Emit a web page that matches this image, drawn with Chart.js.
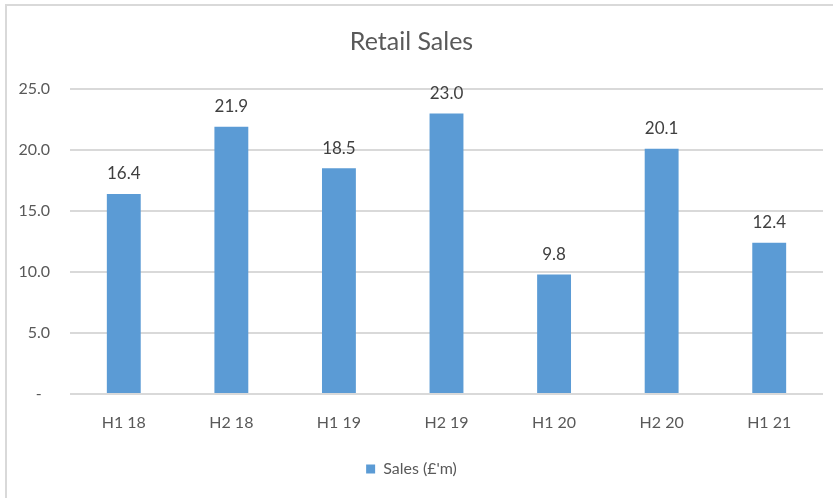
<!DOCTYPE html>
<html>
<head>
<meta charset="utf-8">
<title>Retail Sales</title>
<script src="https://cdn.jsdelivr.net/npm/chart.js@4"></script>
<style>
  html, body { margin: 0; padding: 0; background: #fff; }
  #wrap { position: relative; width: 833px; height: 498px; overflow: hidden; }
  #frame { position: absolute; left: 5px; top: 4px; width: 840px; height: 510px;
           border: 2px solid #d9d9d9; box-sizing: border-box; pointer-events: none; }
  canvas { position: absolute; left: 0; top: 0; }
</style>
</head>
<body>
<div id="wrap">
  <canvas id="chart" width="833" height="498"></canvas>
  <div id="frame"></div>
</div>
<script>
// half-year periods and sales in £m
const periods = ['H1 18', 'H2 18', 'H1 19', 'H2 19', 'H1 20', 'H2 20', 'H1 21'];
const sales = [16.4, 21.9, 18.5, 23.0, 9.8, 20.1, 12.4];
const yTicks = [0, 5, 10, 15, 20, 25];

const FONT = 'Lato, "Open Sans", sans-serif';
const TEXT = '#595959';
const BLUE = '#5b9bd5';
const GRID = '#d9d9d9';

// writes each bar's value just above it
const valueLabels = {
  id: 'valueLabels',
  afterDatasetsDraw(chart) {
    const ctx = chart.ctx;
    const meta = chart.getDatasetMeta(0);
    ctx.save();
    ctx.font = '17px ' + FONT;
    ctx.fillStyle = '#404040';
    ctx.textAlign = 'center';
    ctx.textBaseline = 'middle';
    meta.data.forEach((bar, i) => {
      ctx.fillText(sales[i].toFixed(1), bar.x, bar.y - 20);
    });
    ctx.restore();
  }
};

new Chart(document.getElementById('chart'), {
  type: 'bar',
  data: {
    labels: periods,
    datasets: [{
      label: "Sales (£'m)",
      data: sales,
      backgroundColor: BLUE,
      borderWidth: 0,
      barPercentage: 0.315,
      categoryPercentage: 1.0
    }]
  },
  options: {
    responsive: false,
    animation: false,
    layout: { padding: { left: 0, right: 10, top: 0, bottom: 11 } },
    plugins: {
      title: {
        display: true,
        text: 'Retail Sales',
        color: TEXT,
        font: { family: FONT, size: 25, weight: 'normal' },
        padding: { top: 27, bottom: 32 }
      },
      legend: {
        position: 'bottom',
        labels: {
          color: TEXT,
          font: { family: FONT, size: 16 },
          boxWidth: 9,
          boxHeight: 9,
          padding: 10
        }
      },
      tooltip: { enabled: false }
    },
    scales: {
      x: {
        grid: { display: false, drawTicks: false },
        border: { display: false },
        ticks: { color: TEXT, font: { family: FONT, size: 16 }, padding: 19 },
        afterFit(scale) { scale.height = 57; }
      },
      y: {
        min: 0,
        max: 25,
        afterBuildTicks(scale) { scale.ticks = yTicks.map(v => ({ value: v })); },
        grid: { color: GRID, lineWidth: 2, drawTicks: false },
        border: { display: false },
        ticks: {
          color: TEXT,
          font: { family: FONT, size: 16 },
          padding: 20,
          callback: v => v === 0 ? '-  ' : v.toFixed(1)
        },
        afterFit(scale) { scale.width = 70; }
      }
    }
  },
  plugins: [valueLabels]
});
</script>
</body>
</html>
